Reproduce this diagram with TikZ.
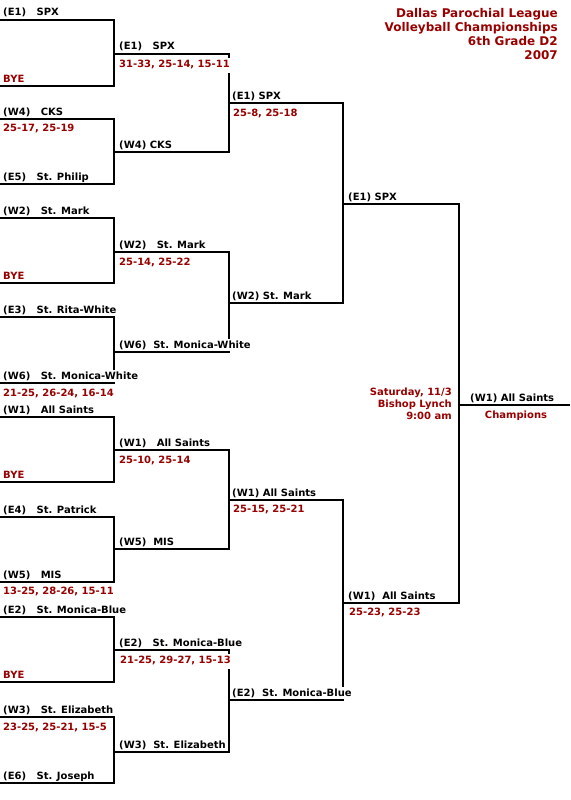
\documentclass[tikz,border=0pt]{standalone}
\usepackage{fontspec}
\setmainfont{DejaVu Sans}
\definecolor{scorered}{RGB}{153,0,0}

\begin{document}
\begin{tikzpicture}[
    x=1pt, y=-1pt,
    bline/.style={line width=2pt},
    team/.style={anchor=base west, inner xsep=0pt, inner ysep=1pt, fill=white,
                 text height=8pt, text depth=2pt, font=\fontsize{10}{12}\selectfont\bfseries},
    score/.style={team, text=scorered, text depth=5pt},
    bye/.style={team, text=scorered},
    info/.style={inner sep=0pt, align=right, text=scorered, font=\fontsize{10}{12}\selectfont\bfseries}
]
\useasboundingbox (0,0) rectangle (570,800);

% bracket lines, round by round
\foreach \yt/\yb in {20/86,119/184,218/283,317/383,417/482,517/582,617/682,717/783}
  \draw[bline] (0,\yt) -| (114,\yb) -- (0,\yb);
\foreach \yt/\yb in {54/152,252/352,450/549,650/752}
  \draw[bline] (114,\yt) -| (229,\yb) -- (114,\yb);
\foreach \yt/\yb in {103/303,500/700}
  \draw[bline] (229,\yt) -| (343,\yb) -- (229,\yb);
\draw[bline] (343,204) -| (459,603) -- (343,603);
\draw[bline] (459,405) -- (570,405);

\node[info, anchor=north east, font=\fontsize{12}{14.2}\selectfont\bfseries] (title) at (558,8)
    {Dallas Parochial League\\Volleyball Championships\\6th Grade D2\\2007};

% round 1
\node[team]  (a1)  at (3,16)  {(E1)~~~SPX};
\node[bye]   (a1b) at (3,82)  {BYE};
\node[team]  (a2)  at (3,115) {(W4)~~~CKS};
\node[score] (a2s) at (3,131) {25-17, 25-19};
\node[team]  (a3)  at (3,180) {(E5)~~~St. Philip};
\node[team]  (a4)  at (3,214) {(W2)~~~St. Mark};
\node[bye]   (a4b) at (3,279) {BYE};
\node[team]  (a5)  at (3,313) {(E3)~~~St. Rita-White};
\node[team]  (a6)  at (3,379) {(W6)~~~St. Monica-White};
\node[score] (a6s) at (3,396) {21-25, 26-24, 16-14};
\node[team]  (a7)  at (3,413) {(W1)~~~All Saints};
\node[bye]   (a7b) at (3,478) {BYE};
\node[team]  (a8)  at (3,513) {(E4)~~~St. Patrick};
\node[team]  (a9)  at (3,578) {(W5)~~~MIS};
\node[score] (a9s) at (3,594) {13-25, 28-26, 15-11};
\node[team]  (a10) at (3,613) {(E2)~~~St. Monica-Blue};
\node[bye]   (a10b) at (3,678) {BYE};
\node[team]  (a11) at (3,713) {(W3)~~~St. Elizabeth};
\node[score] (a11s) at (3,730) {23-25, 25-21, 15-5};
\node[team]  (a12) at (3,779) {(E6)~~~St. Joseph};

% round 2
\node[team]  (b1)  at (119,50)  {(E1)~~~SPX};
\node[score] (b1s) at (119,67)  {31-33, 25-14, 15-11};
\node[team]  (b2)  at (119,148) {(W4)~CKS};
\node[team]  (b3)  at (119,248) {(W2)~~~St. Mark};
\node[score] (b3s) at (119,265) {25-14, 25-22};
\node[team]  (b4)  at (119,348) {(W6)~~St. Monica-White};
\node[team]  (b5)  at (119,446) {(W1)~~~All Saints};
\node[score] (b5s) at (119,463) {25-10, 25-14};
\node[team]  (b6)  at (119,545) {(W5)~~MIS};
\node[team]  (b7)  at (119,646) {(E2)~~~St. Monica-Blue};
\node[score] (b7s) at (120,663) {21-25, 29-27, 15-13};
\node[team]  (b8)  at (119,748) {(W3)~~St. Elizabeth};

% round 3
\node[team]  (c1)  at (232,99)  {(E1)~SPX};
\node[score] (c1s) at (233,116) {25-8, 25-18};
\node[team]  (c2)  at (232,299) {(W2)~St. Mark};
\node[team]  (c3)  at (232,496) {(W1)~All Saints};
\node[score] (c3s) at (233,512) {25-15, 25-21};
\node[team]  (c4)  at (232,696) {(E2)~~St. Monica-Blue};

% round 4 and final
\node[team]  (d1)  at (348,200) {(E1)~SPX};
\node[team]  (d2)  at (348,599) {(W1)~~All Saints};
\node[score] (d2s) at (349,615) {25-23, 25-23};
\node[team]  (champ)  at (470,401) {(W1)~All Saints};
\node[score, anchor=base] (champt) at (516,418) {Champions};
\node[info, anchor=north east] (when) at (452,388) {Saturday, 11/3\\Bishop Lynch\\9:00 am};
\end{tikzpicture}
\end{document}
